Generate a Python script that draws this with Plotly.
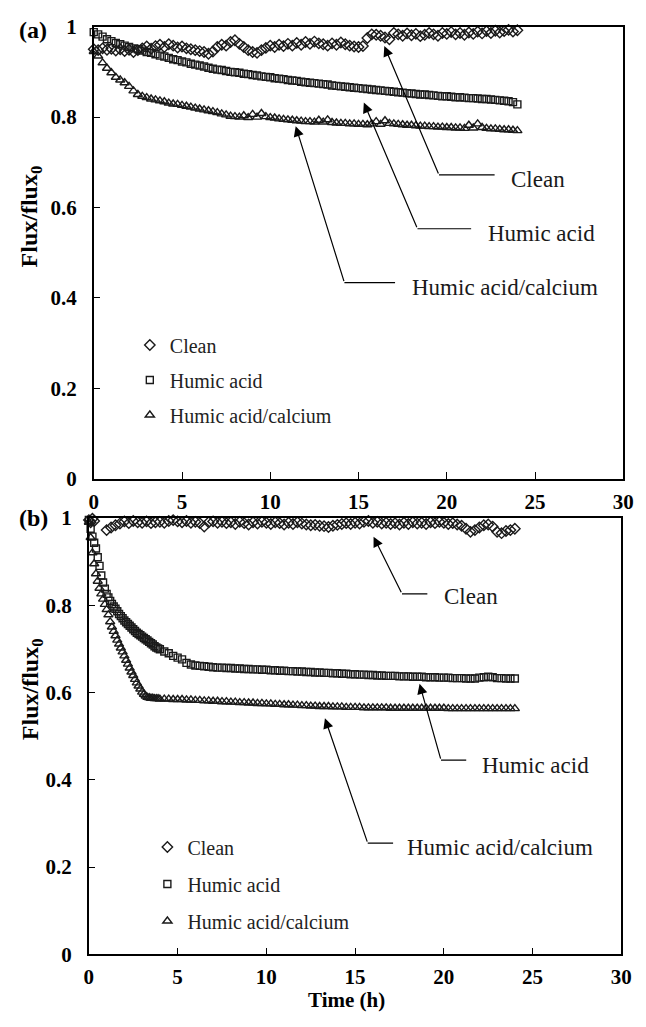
import plotly.graph_objects as go

# ---------------- data ----------------
# panel (a): sampled every 0.25 h
time_a = [0, 0.25, 0.5, 0.75, 1, 1.25, 1.5, 1.75, 2, 2.25, 2.5, 2.75, 3, 3.25, 3.5, 3.75,
          4, 4.25, 4.5, 4.75, 5, 5.25, 5.5, 5.75, 6, 6.25, 6.5, 6.75, 7, 7.25, 7.5, 7.75,
          8, 8.25, 8.5, 8.75, 9, 9.25, 9.5, 9.75, 10, 10.25, 10.5, 10.75, 11, 11.25, 11.5, 11.75,
          12, 12.25, 12.5, 12.75, 13, 13.25, 13.5, 13.75, 14, 14.25, 14.5, 14.75, 15, 15.25, 15.5, 15.75,
          16, 16.25, 16.5, 16.75, 17, 17.25, 17.5, 17.75, 18, 18.25, 18.5, 18.75, 19, 19.25, 19.5, 19.75,
          20, 20.25, 20.5, 20.75, 21, 21.25, 21.5, 21.75, 22, 22.25, 22.5, 22.75, 23, 23.25, 23.5, 23.75, 24]

clean_a = [0.950, 0.948, 0.952, 0.949, 0.951, 0.947, 0.950, 0.946, 0.949, 0.944, 0.948, 0.952, 0.956, 0.951, 0.957, 0.960,
           0.955, 0.961, 0.958, 0.954, 0.956, 0.952, 0.950, 0.948, 0.946, 0.944, 0.940, 0.945, 0.955, 0.960, 0.958, 0.966,
           0.970, 0.962, 0.955, 0.948, 0.944, 0.942, 0.948, 0.953, 0.958, 0.955, 0.960, 0.957, 0.962, 0.958, 0.964, 0.960,
           0.966, 0.962, 0.967, 0.963, 0.961, 0.958, 0.963, 0.960, 0.965, 0.961, 0.958, 0.956, 0.955, 0.957, 0.975, 0.983,
           0.982, 0.980, 0.976, 0.972, 0.986, 0.983, 0.980, 0.985, 0.981, 0.984, 0.979, 0.982, 0.986, 0.983, 0.980, 0.986,
           0.984, 0.988, 0.983, 0.986, 0.982, 0.987, 0.984, 0.989, 0.985, 0.990, 0.986, 0.991, 0.987, 0.990, 0.993, 0.989, 0.992]

humic_a = [0.988, 0.983, 0.978, 0.972, 0.968, 0.964, 0.961, 0.958, 0.955, 0.952, 0.950, 0.947, 0.944, 0.942, 0.939, 0.936,
           0.934, 0.931, 0.928, 0.926, 0.923, 0.921, 0.918, 0.916, 0.914, 0.912, 0.909, 0.907, 0.905, 0.904, 0.902, 0.900,
           0.899, 0.898, 0.896, 0.895, 0.893, 0.892, 0.890, 0.889, 0.888, 0.886, 0.885, 0.884, 0.882, 0.881, 0.880, 0.878,
           0.877, 0.876, 0.875, 0.874, 0.873, 0.872, 0.870, 0.869, 0.868, 0.867, 0.866, 0.865, 0.864, 0.863, 0.862, 0.861,
           0.860, 0.859, 0.858, 0.857, 0.856, 0.855, 0.854, 0.853, 0.852, 0.851, 0.850, 0.850, 0.849, 0.848, 0.847, 0.846,
           0.846, 0.845, 0.844, 0.844, 0.843, 0.842, 0.842, 0.841, 0.840, 0.840, 0.839, 0.838, 0.837, 0.836, 0.835, 0.833, 0.828]

hacal_a = [0.945, 0.935, 0.920, 0.908, 0.898, 0.888, 0.882, 0.876, 0.868, 0.858, 0.850, 0.846, 0.843, 0.840, 0.838, 0.836,
           0.834, 0.831, 0.829, 0.828, 0.826, 0.824, 0.822, 0.820, 0.818, 0.816, 0.814, 0.812, 0.810, 0.807, 0.805, 0.802,
           0.801, 0.800, 0.803, 0.799, 0.806, 0.800, 0.808, 0.801, 0.799, 0.798, 0.796, 0.795, 0.794, 0.793, 0.792, 0.791,
           0.790, 0.790, 0.789, 0.793, 0.789, 0.794, 0.788, 0.787, 0.786, 0.786, 0.785, 0.785, 0.784, 0.784, 0.783, 0.785,
           0.790, 0.784, 0.792, 0.786, 0.785, 0.784, 0.783, 0.782, 0.782, 0.781, 0.780, 0.780, 0.779, 0.779, 0.778, 0.778,
           0.777, 0.777, 0.776, 0.776, 0.775, 0.782, 0.776, 0.785, 0.777, 0.775, 0.774, 0.774, 0.773, 0.772, 0.772, 0.771, 0.770]

# panel (b): clean sampled every 0.25 h after an initial cluster
time_b_clean = [0, 0.1, 0.2, 0.3, 1, 1.25, 1.5, 1.75, 2, 2.25, 2.5, 2.75, 3, 3.25, 3.5, 3.75,
                4, 4.25, 4.5, 4.75, 5, 5.25, 5.5, 5.75, 6, 6.25, 6.5, 6.75, 7, 7.25, 7.5, 7.75,
                8, 8.25, 8.5, 8.75, 9, 9.25, 9.5, 9.75, 10, 10.25, 10.5, 10.75, 11, 11.25, 11.5, 11.75,
                12, 12.25, 12.5, 12.75, 13, 13.25, 13.5, 13.75, 14, 14.25, 14.5, 14.75, 15, 15.25, 15.5, 15.75,
                16, 16.25, 16.5, 16.75, 17, 17.25, 17.5, 17.75, 18, 18.25, 18.5, 18.75, 19, 19.25, 19.5, 19.75,
                20, 20.25, 20.5, 20.75, 21, 21.25, 21.5, 21.75, 22, 22.25, 22.5, 22.75, 23, 23.25, 23.5, 23.75, 24]

clean_b = [0.995, 0.990, 0.998, 0.993, 0.972, 0.978, 0.983, 0.987, 0.992, 0.988, 0.993, 0.990, 0.989, 0.992, 0.988, 0.990,
           0.991, 0.989, 0.993, 0.995, 0.992, 0.990, 0.993, 0.989, 0.991, 0.988, 0.980, 0.990, 0.992, 0.989, 0.991, 0.988,
           0.990, 0.986, 0.991, 0.988, 0.985, 0.990, 0.987, 0.991, 0.989, 0.986, 0.990, 0.988, 0.985, 0.989, 0.986, 0.990,
           0.987, 0.985, 0.983, 0.984, 0.982, 0.981, 0.979, 0.982, 0.984, 0.986, 0.988, 0.986, 0.989, 0.987, 0.991, 0.993,
           0.989, 0.991, 0.987, 0.989, 0.986, 0.988, 0.985, 0.989, 0.986, 0.990, 0.987, 0.989, 0.986, 0.990, 0.988, 0.991,
           0.989, 0.986, 0.988, 0.985, 0.982, 0.975, 0.968, 0.972, 0.978, 0.983, 0.985, 0.980, 0.968, 0.965, 0.970, 0.972, 0.975]

# panel (b): fouled runs sampled every 0.1 h for the first 4 h, then every 0.25 h
time_b = [0, 0.1, 0.2, 0.3, 0.4, 0.5, 0.6, 0.7, 0.8, 0.9, 1.0, 1.1, 1.2, 1.3, 1.4, 1.5, 1.6, 1.7, 1.8, 1.9,
          2.0, 2.1, 2.2, 2.3, 2.4, 2.5, 2.6, 2.7, 2.8, 2.9, 3.0, 3.1, 3.2, 3.3, 3.4, 3.5, 3.6, 3.7, 3.8, 3.9, 4.0,
          4.25, 4.5, 4.75, 5, 5.25, 5.5, 5.75, 6, 6.25, 6.5, 6.75, 7, 7.25, 7.5, 7.75,
          8, 8.25, 8.5, 8.75, 9, 9.25, 9.5, 9.75, 10, 10.25, 10.5, 10.75, 11, 11.25, 11.5, 11.75,
          12, 12.25, 12.5, 12.75, 13, 13.25, 13.5, 13.75, 14, 14.25, 14.5, 14.75, 15, 15.25, 15.5, 15.75,
          16, 16.25, 16.5, 16.75, 17, 17.25, 17.5, 17.75, 18, 18.25, 18.5, 18.75, 19, 19.25, 19.5, 19.75,
          20, 20.25, 20.5, 20.75, 21, 21.25, 21.5, 21.75, 22, 22.25, 22.5, 22.75, 23, 23.25, 23.5, 23.75, 24]

humic_b = [0.995, 0.975, 0.957, 0.943, 0.930, 0.910, 0.890, 0.868, 0.852, 0.838, 0.826, 0.818, 0.810, 0.803, 0.797, 0.792,
           0.786, 0.780, 0.775, 0.770, 0.765, 0.761, 0.757, 0.753, 0.749, 0.745, 0.741, 0.737, 0.734, 0.731, 0.728, 0.725,
           0.722, 0.719, 0.716, 0.713, 0.710, 0.706, 0.703, 0.701, 0.699,
           0.694, 0.690, 0.684, 0.680, 0.676, 0.668, 0.664, 0.662, 0.661, 0.660, 0.659, 0.658, 0.657, 0.657, 0.656,
           0.656, 0.655, 0.655, 0.654, 0.654, 0.653, 0.653, 0.652, 0.652, 0.651, 0.651, 0.650, 0.650, 0.649, 0.649, 0.648,
           0.648, 0.647, 0.647, 0.646, 0.646, 0.645, 0.645, 0.644, 0.644, 0.643, 0.643, 0.642, 0.642, 0.641, 0.641, 0.640,
           0.640, 0.639, 0.639, 0.638, 0.638, 0.638, 0.637, 0.637, 0.637, 0.636, 0.636, 0.636, 0.635, 0.635, 0.635, 0.634,
           0.634, 0.634, 0.633, 0.633, 0.633, 0.632, 0.632, 0.632, 0.634, 0.635, 0.636, 0.635, 0.633, 0.633, 0.632, 0.632, 0.632]

hacal_b = [0.990, 0.955, 0.920, 0.895, 0.872, 0.855, 0.839, 0.826, 0.814, 0.802, 0.790, 0.778, 0.762, 0.750, 0.740, 0.730,
           0.720, 0.711, 0.702, 0.693, 0.684, 0.674, 0.665, 0.656, 0.647, 0.639, 0.630, 0.622, 0.615, 0.608, 0.601, 0.596,
           0.592, 0.589, 0.588, 0.587, 0.587, 0.586, 0.586, 0.586, 0.585,
           0.585, 0.585, 0.584, 0.584, 0.584, 0.583, 0.583, 0.582, 0.582, 0.581, 0.581, 0.580, 0.580, 0.579, 0.579,
           0.578, 0.578, 0.577, 0.577, 0.576, 0.576, 0.575, 0.575, 0.574, 0.574, 0.573, 0.573, 0.572, 0.572, 0.571, 0.571,
           0.570, 0.570, 0.569, 0.569, 0.568, 0.568, 0.568, 0.567, 0.567, 0.567, 0.566, 0.566, 0.566, 0.566, 0.565, 0.565,
           0.565, 0.565, 0.565, 0.565, 0.564, 0.564, 0.564, 0.564, 0.564, 0.564, 0.564, 0.564, 0.564, 0.564, 0.564, 0.564,
           0.564, 0.563, 0.563, 0.563, 0.563, 0.563, 0.563, 0.563, 0.563, 0.563, 0.563, 0.563, 0.563, 0.563, 0.563, 0.563, 0.563]

series_names = ["Clean", "Humic acid", "Humic acid/calcium"]
x_ticks = [0, 5, 10, 15, 20, 25, 30]
y_ticks = [0, 0.2, 0.4, 0.6, 0.8, 1.0]
y_tick_text = ["0", "0.2", "0.4", "0.6", "0.8", "1"]

# ---------------- figure ----------------
W, H = 646, 1027
SERIF = "Liberation Serif"
INK = "#1a1a1a"

symbols = ["diamond-open", "square-open", "triangle-up-open"]
sizes = [8, 7, 8]

fig = go.Figure()
panels = [
    ("x", "y", "legend", [(time_a, clean_a), (time_a, humic_a), (time_a, hacal_a)]),
    ("x2", "y2", "legend2", [(time_b_clean, clean_b), (time_b, humic_b), (time_b, hacal_b)]),
]
for xa, ya, lg, data in panels:
    for i, (tx, vy) in enumerate(data):
        fig.add_trace(go.Scatter(
            x=tx, y=vy, mode="markers", name=series_names[i],
            xaxis=xa, yaxis=ya, legend=lg, legendgroup=lg + str(i),
            cliponaxis=False,
            marker=dict(symbol=symbols[i], size=sizes[i], color=INK,
                        line=dict(width=1.4, color=INK)),
        ))

def xaxis_cfg(domain, anchor):
    return dict(domain=domain, anchor=anchor, range=[0, 30], tickvals=x_ticks,
                ticks="inside", ticklen=7, tickwidth=1, tickcolor="black",
                showline=True, linecolor="black", linewidth=1.6, mirror=True,
                showgrid=False, zeroline=False, ticklabelstandoff=3,
                tickfont=dict(family=SERIF, size=21, color="black", weight="bold"))

def yaxis_cfg(domain, anchor):
    return dict(domain=domain, anchor=anchor, range=[0, 1], tickvals=y_ticks, ticktext=y_tick_text,
                ticks="inside", ticklen=6, tickwidth=1, tickcolor="black",
                showline=True, linecolor="black", linewidth=1.6, mirror=True,
                showgrid=False, zeroline=False, ticklabelstandoff=11,
                tickfont=dict(family=SERIF, size=21, color="black", weight="bold"))

fig.update_layout(
    width=W, height=H, margin=dict(l=0, r=0, t=0, b=0),
    paper_bgcolor="white", plot_bgcolor="white",
    xaxis=xaxis_cfg([91 / W, 634 / W], "y"),
    yaxis=yaxis_cfg([1 - 478 / H, 1 - 15 / H], "x"),
    xaxis2=xaxis_cfg([86 / W, 632 / W], "y2"),
    yaxis2=yaxis_cfg([1 - 965 / H, 1 - 518 / H], "x2"),
    legend=dict(x=128 / W, y=1 - 321 / H, xanchor="left", yanchor="top",
                bgcolor="rgba(0,0,0,0)", tracegroupgap=6, itemsizing="trace",
                font=dict(family=SERIF, size=20, color="#222")),
    legend2=dict(x=146 / W, y=1 - 835 / H, xanchor="left", yanchor="top",
                 bgcolor="rgba(0,0,0,0)", tracegroupgap=8, itemsizing="trace",
                 font=dict(family=SERIF, size=20, color="#222")),
    showlegend=True,
)

annotations = []
shapes = []

# callouts: (xref, yref, tip, elbow, line_end, text_pos, label)
callouts = [
    ("x", "y", (16.46, 0.957), (19.56, 0.672), (22.71, 0.672), (23.54, 0.661), "Clean"),
    ("x", "y", (15.30, 0.832), (18.34, 0.553), (21.38, 0.553), (22.21, 0.542), "Humic acid"),
    ("x", "y", (11.44, 0.780), (14.20, 0.434), (17.07, 0.434), (17.90, 0.423), "Humic acid/calcium"),
    ("x2", "y2", (16.04, 0.957), (17.64, 0.826), (19.07, 0.826), (19.89, 0.821), "Clean"),
    ("x2", "y2", (18.63, 0.620), (19.84, 0.445), (21.26, 0.445), (22.03, 0.432), "Humic acid"),
    ("x2", "y2", (13.30, 0.541), (15.71, 0.255), (17.14, 0.255), (17.80, 0.244), "Humic acid/calcium"),
]
for xr, yr, tip, elbow, lend, tpos, label in callouts:
    annotations.append(dict(
        x=tip[0], y=tip[1], xref=xr, yref=yr, ax=elbow[0], ay=elbow[1], axref=xr, ayref=yr,
        text="", showarrow=True, arrowhead=2, arrowsize=1.7, arrowwidth=1.2, arrowcolor="black",
    ))
    shapes.append(dict(type="line", xref=xr, yref=yr, x0=elbow[0], y0=elbow[1], x1=lend[0], y1=lend[1],
                       line=dict(color="black", width=1.2)))
    annotations.append(dict(
        x=tpos[0], y=tpos[1], xref=xr, yref=yr, text=label, showarrow=False,
        xanchor="left", yanchor="middle",
        font=dict(family=SERIF, size=23, color="#1a1a1a"),
    ))

# panel labels and axis titles
annotations += [
    dict(x=29 / W, y=1 - 18 / H, xref="paper", yref="paper", text="<b>(a)</b>", showarrow=False,
         xanchor="center", yanchor="middle", font=dict(family=SERIF, size=24, color="black")),
    dict(x=29 / W, y=1 - 518 / H, xref="paper", yref="paper", text="<b>(b)</b>", showarrow=False,
         xanchor="center", yanchor="middle", font=dict(family=SERIF, size=24, color="black")),
    dict(x=27 / W, y=1 - 209 / H, xref="paper", yref="paper", text="<b>Flux/flux<sub>0</sub></b>",
         showarrow=False, textangle=-90, xanchor="center", yanchor="middle",
         font=dict(family=SERIF, size=24, color="black")),
    dict(x=27 / W, y=1 - 693 / H, xref="paper", yref="paper", text="<b>Flux/flux<sub>0</sub></b>",
         showarrow=False, textangle=-90, xanchor="center", yanchor="middle",
         font=dict(family=SERIF, size=24, color="black")),
    dict(x=350 / W, y=1 - 1012 / H, xref="paper", yref="paper", text="<b>Time (h)</b>", showarrow=False,
         xanchor="center", yanchor="middle", font=dict(family=SERIF, size=21, color="black")),
]

fig.update_layout(annotations=annotations, shapes=shapes)
fig.write_html("out.html")
